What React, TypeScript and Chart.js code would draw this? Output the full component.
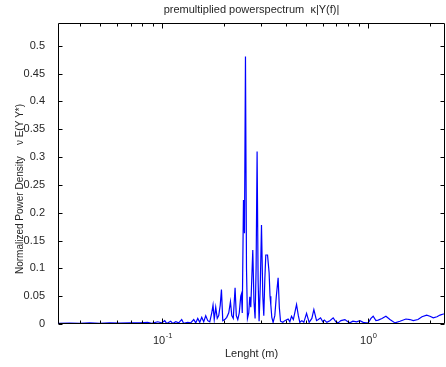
import React, { useEffect, useRef } from "react";
import { Chart, registerables } from "chart.js";

Chart.register(...registerables);

const titleText = "premultiplied powerspectrum  κ|Y(f)|";
const xLabel = "Lenght (m)";
const yLabel = "Normalized Power Density    ν E(Y Y*)";

const xMin = 0.0311;
const xMax = 2.361;
const yMin = 0;
const yMax = 0.541;
const yStep = 0.05;
const xMajorTicks = [0.1, 1];
const xMajorExp = ["-1", "0"];

const lengths = [
  0.0311, 0.0354, 0.0396, 0.0443, 0.0495, 0.0554, 0.062, 0.0693, 0.0776, 0.0848,
  0.0887, 0.0949, 0.0992, 0.1026, 0.1049, 0.1097, 0.1122, 0.1161, 0.12, 0.1241,
  0.1269, 0.1327, 0.1373, 0.142, 0.1452, 0.1485, 0.1519, 0.1553, 0.1588, 0.1624,
  0.1661, 0.1699, 0.1737, 0.1762, 0.1786, 0.1816, 0.1847, 0.1878, 0.191, 0.1936,
  0.1965, 0.2009, 0.2054, 0.2101, 0.2141, 0.2173, 0.221, 0.2255, 0.2286, 0.2324,
  0.2363, 0.2403, 0.2422, 0.2444, 0.2477, 0.2505, 0.2533, 0.2562, 0.259, 0.2628,
  0.2658, 0.2688, 0.2749, 0.2786, 0.2821, 0.2853, 0.2885, 0.2917, 0.295, 0.299,
  0.303, 0.3075, 0.3109, 0.3145, 0.318, 0.3242, 0.33, 0.3334, 0.3364, 0.3401,
  0.3451, 0.3517, 0.3577, 0.365, 0.3699, 0.3749, 0.3847, 0.3934, 0.4082, 0.4161,
  0.424, 0.4327, 0.4485, 0.4576, 0.4653, 0.4758, 0.4867, 0.5016, 0.5164, 0.5323,
  0.5444, 0.561, 0.5725, 0.5868, 0.6021, 0.6124, 0.6297, 0.6512, 0.6758, 0.6965,
  0.7147, 0.7366, 0.7704, 0.7967, 0.8147, 0.8425, 0.8782, 0.9112, 0.9456, 0.9745,
  1.0, 1.031, 1.057, 1.09, 1.119, 1.166, 1.219, 1.275, 1.349, 1.426,
  1.525, 1.595, 1.655, 1.745, 1.825, 1.923, 1.995, 2.071, 2.158, 2.233,
  2.317, 2.361,
];

const psd = [
  0.001, 0.0015, 0.001, 0.002, 0.001, 0.002, 0.0015, 0.002, 0.002, 0.003,
  0.001, 0.004, 0.002, 0.006, 0.001, 0.005, 0.001, 0.004, 0.002, 0.008,
  0.001, 0.003, 0.002, 0.008, 0.002, 0.01, 0.003, 0.012, 0.004, 0.015,
  0.006, 0.004, 0.02, 0.034, 0.008, 0.03, 0.01, 0.015, 0.034, 0.062,
  0.006, 0.008, 0.012, 0.02, 0.04, 0.015, 0.01, 0.065, 0.015, 0.008,
  0.02, 0.05, 0.054, 0.02, 0.223, 0.163, 0.481, 0.1, 0.01, 0.02,
  0.049, 0.03, 0.133, 0.04, 0.01, 0.1, 0.31, 0.08, 0.005, 0.07,
  0.178, 0.05, 0.015, 0.08, 0.124, 0.124, 0.092, 0.05, 0.034, 0.012,
  0.003, 0.015, 0.05, 0.083, 0.03, 0.005, 0.003, 0.006, 0.009, 0.004,
  0.014, 0.008, 0.035, 0.015, 0.003, 0.006, 0.003, 0.019, 0.003, 0.01,
  0.026, 0.006, 0.008, 0.011, 0.004, 0.007, 0.003, 0.006, 0.011, 0.004,
  0.002, 0.006, 0.008, 0.004, 0.002, 0.005, 0.004, 0.006, 0.003, 0.002,
  0.002, 0.01, 0.014, 0.006, 0.007, 0.01, 0.014, 0.008, 0.002, 0.005,
  0.009, 0.008, 0.006, 0.008, 0.013, 0.016, 0.014, 0.011, 0.013, 0.016,
  0.018, 0.018,
];

const FONT = "'Liberation Sans', Arial, sans-serif";
const TEXT_COLOR = "#262626";

const matlabAxes = {
  id: "matlabAxes",
  afterDraw(chart: any) {
    const { ctx, chartArea } = chart;
    const { left, right, top, bottom } = chartArea;
    const xs = chart.scales.x;
    const ys = chart.scales.y;
    ctx.save();
    ctx.strokeStyle = "#000";
    ctx.lineWidth = 1;
    const L = Math.round(left) + 0.5;
    const R = Math.round(right) - 0.5;
    const T = Math.round(top) + 0.5;
    const B = Math.round(bottom) - 0.5;
    ctx.beginPath();
    ctx.rect(L, T, R - L, B - T);
    ctx.stroke();

    ctx.beginPath();
    for (let v = yMin; v <= 0.5 + 1e-9; v += yStep) {
      const py = Math.round(ys.getPixelForValue(v)) + 0.5;
      ctx.moveTo(L, py);
      ctx.lineTo(L + 4, py);
      ctx.moveTo(R, py);
      ctx.lineTo(R - 4, py);
    }
    const decades = [0.01, 0.1, 1];
    for (const d of decades) {
      for (let k = 1; k <= 9; k++) {
        const v = d * k;
        if (v < xMin || v > xMax) continue;
        const px = Math.round(xs.getPixelForValue(v)) + 0.5;
        const len = k === 1 ? 5 : 3;
        ctx.moveTo(px, B);
        ctx.lineTo(px, B - len);
        ctx.moveTo(px, T);
        ctx.lineTo(px, T + len);
      }
    }
    ctx.stroke();

    ctx.fillStyle = TEXT_COLOR;
    ctx.textBaseline = "alphabetic";
    ctx.textAlign = "left";
    xMajorTicks.forEach((v, i) => {
      const px = xs.getPixelForValue(v);
      ctx.font = `11px ${FONT}`;
      const w1 = ctx.measureText("10").width;
      ctx.font = `7.5px ${FONT}`;
      const w2 = ctx.measureText(xMajorExp[i]).width;
      const x0 = px - (w1 + w2) / 2;
      ctx.font = `11px ${FONT}`;
      ctx.fillText("10", x0, bottom + 19.5);
      ctx.font = `7.5px ${FONT}`;
      ctx.fillText(xMajorExp[i], x0 + w1 + 0.5, bottom + 13.5);
    });

    ctx.font = `11px ${FONT}`;
    ctx.textAlign = "center";
    ctx.fillText(titleText, (left + right) / 2, 13);
    ctx.fillText(xLabel, (left + right) / 2, bottom + 33);
    ctx.save();
    ctx.translate(23, 189);
    ctx.rotate(-Math.PI / 2);
    ctx.font = `10px ${FONT}`;
    ctx.textBaseline = "alphabetic";
    ctx.fillText(yLabel, 0, 0);
    ctx.restore();

    ctx.restore();
  },
};

export default function App() {
  const ref = useRef<HTMLCanvasElement | null>(null);
  useEffect(() => {
    document.body.style.margin = "0";
    if (!ref.current) return;
    const chart = new Chart(ref.current, {
      type: "line",
      data: {
        datasets: [
          {
            data: lengths.map((x, i) => ({ x, y: psd[i] })),
            borderColor: "#0000ff",
            borderWidth: 1.2,
            pointRadius: 0,
            tension: 0,
            fill: false,
          },
        ],
      },
      options: {
        responsive: false,
        animation: false,
        layout: { padding: { top: 23, right: 1, left: 0, bottom: 0 } },
        plugins: {
          legend: { display: false },
          tooltip: { enabled: false },
          title: { display: false },
        },
        scales: {
          x: {
            type: "logarithmic",
            min: xMin,
            max: xMax,
            grid: { display: false },
            border: { display: false },
            ticks: { display: false },
            afterFit: (s: any) => {
              s.height = 43;
            },
          },
          y: {
            type: "linear",
            min: yMin,
            max: yMax,
            grid: { display: false },
            border: { display: false },
            ticks: {
              stepSize: yStep,
              includeBounds: false,
              autoSkip: false,
              padding: 5,
              color: TEXT_COLOR,
              font: { family: FONT, size: 11 },
              callback: (v: any) => String(Number(Number(v).toFixed(2))),
            },
            afterFit: (s: any) => {
              s.width = 58;
            },
          },
        },
      },
      plugins: [matlabAxes],
    });
    return () => chart.destroy();
  }, []);
  return (
    <div style={{ width: 446, height: 367 }}>
      <canvas ref={ref} width={446} height={367} />
    </div>
  );
}
